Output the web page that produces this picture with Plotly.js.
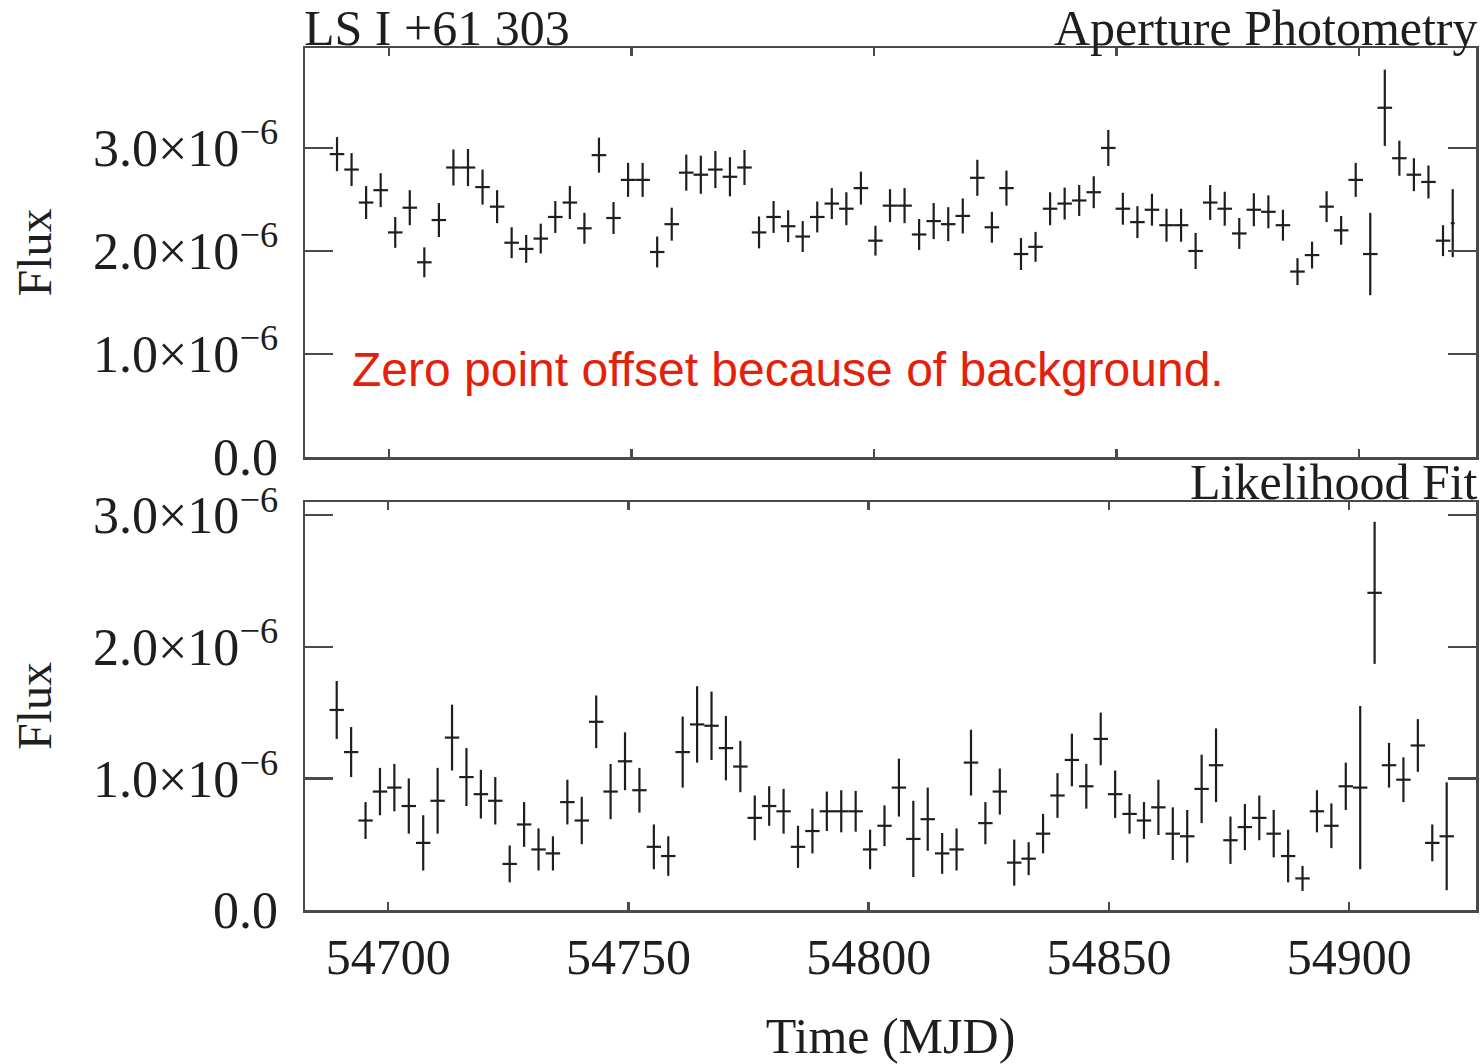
<!DOCTYPE html>
<html>
<head>
<meta charset="utf-8">
<script src="https://cdn.plot.ly/plotly-3.0.1.min.js"></script>
<style>html,body{margin:0;padding:0;background:#fff;}#chart{width:1481px;height:1064px;}</style>
</head>
<body>
<div id="chart"></div>
<script>
// Time bins (MJD), aperture photometry panel
const mjdAperture = [54689.3,54692.3,54695.3,54698.3,54701.3,54704.3,54707.3,54710.3,54713.3,54716.3,
  54719.3,54722.3,54725.3,54728.3,54731.3,54734.3,54737.3,54740.3,54743.3,54746.3,
  54749.3,54752.3,54755.3,54758.3,54761.3,54764.3,54767.3,54770.3,54773.3,54776.3,
  54779.3,54782.3,54785.3,54788.3,54791.3,54794.3,54797.3,54800.3,54803.3,54806.3,
  54809.3,54812.3,54815.3,54818.3,54821.3,54824.3,54827.3,54830.3,54833.3,54836.3,
  54839.3,54842.3,54845.3,54848.3,54851.3,54854.3,54857.3,54860.3,54863.3,54866.3,
  54869.3,54872.3,54875.3,54878.3,54881.3,54884.3,54887.3,54890.3,54893.3,54896.3,
  54899.3,54902.3,54905.3,54908.3,54911.3,54914.3,54917.3,54919.3];
// Time bins (MJD), likelihood fit panel
const mjdLikelihood = [54689.3,54692.3,54695.3,54698.3,54701.3,54704.3,54707.3,54710.3,54713.3,54716.3,
  54719.3,54722.3,54725.3,54728.3,54731.3,54734.3,54737.3,54740.3,54743.3,54746.3,
  54749.3,54752.3,54755.3,54758.3,54761.3,54764.3,54767.3,54770.3,54773.3,54776.3,
  54779.3,54782.3,54785.3,54788.3,54791.3,54794.3,54797.3,54800.3,54803.3,54806.3,
  54809.3,54812.3,54815.3,54818.3,54821.3,54824.3,54827.3,54830.3,54833.3,54836.3,
  54839.3,54842.3,54845.3,54848.3,54851.3,54854.3,54857.3,54860.3,54863.3,54866.3,
  54869.3,54872.3,54875.3,54878.3,54881.3,54884.3,54887.3,54890.3,54893.3,54896.3,
  54899.3,54902.3,54905.3,54908.3,54911.3,54914.3,54917.3,54920.3];
// Half bin widths (days)
const binHalfAperture = [1.5,1.5,1.5,1.5,1.5,1.5,1.5,1.5,1.5,1.5,1.5,1.5,1.5,1.5,1.5,1.5,1.5,1.5,1.5,1.5,
  1.5,1.5,1.5,1.5,1.5,1.5,1.5,1.5,1.5,1.5,1.5,1.5,1.5,1.5,1.5,1.5,1.5,1.5,1.5,1.5,
  1.5,1.5,1.5,1.5,1.5,1.5,1.5,1.5,1.5,1.5,1.5,1.5,1.5,1.5,1.5,1.5,1.5,1.5,1.5,1.5,
  1.5,1.5,1.5,1.5,1.5,1.5,1.5,1.5,1.5,1.5,1.5,1.5,1.5,1.5,1.5,1.5,1.5,0.4];
const binHalfLikelihood = [1.5,1.5,1.5,1.5,1.5,1.5,1.5,1.5,1.5,1.5,1.5,1.5,1.5,1.5,1.5,1.5,1.5,1.5,1.5,1.5,
  1.5,1.5,1.5,1.5,1.5,1.5,1.5,1.5,1.5,1.5,1.5,1.5,1.5,1.5,1.5,1.5,1.5,1.5,1.5,1.5,
  1.5,1.5,1.5,1.5,1.5,1.5,1.5,1.5,1.5,1.5,1.5,1.5,1.5,1.5,1.5,1.5,1.5,1.5,1.5,1.5,
  1.5,1.5,1.5,1.5,1.5,1.5,1.5,1.5,1.5,1.5,1.5,1.5,1.5,1.5,1.5,1.5,1.5,1.5];
// Aperture photometry flux (units of 1e-6)
const fluxAperture = [2.94,2.79,2.47,2.59,2.18,2.42,1.89,2.30,2.81,2.81,
  2.62,2.43,2.08,2.02,2.12,2.33,2.47,2.22,2.93,2.32,
  2.69,2.69,1.99,2.26,2.76,2.74,2.79,2.72,2.81,2.18,
  2.33,2.24,2.14,2.33,2.46,2.41,2.61,2.10,2.44,2.44,
  2.16,2.29,2.26,2.34,2.71,2.23,2.61,1.97,2.04,2.41,
  2.46,2.49,2.57,3.00,2.41,2.28,2.40,2.25,2.25,2.00,
  2.47,2.41,2.17,2.40,2.38,2.25,1.80,1.96,2.43,2.20,
  2.69,1.97,3.39,2.90,2.74,2.67,2.10,2.27];
const errAperture = [0.165,0.16,0.16,0.165,0.15,0.17,0.145,0.165,0.175,0.18,
  0.17,0.16,0.15,0.135,0.145,0.155,0.16,0.15,0.17,0.155,
  0.165,0.165,0.15,0.16,0.175,0.185,0.18,0.19,0.17,0.155,
  0.155,0.155,0.15,0.15,0.15,0.16,0.16,0.145,0.16,0.17,
  0.15,0.175,0.165,0.17,0.175,0.15,0.17,0.155,0.145,0.16,
  0.155,0.15,0.155,0.175,0.155,0.155,0.155,0.16,0.16,0.175,
  0.17,0.165,0.15,0.16,0.16,0.15,0.13,0.13,0.15,0.14,
  0.165,0.40,0.37,0.17,0.16,0.16,0.15,0.33];
// Likelihood fit flux (units of 1e-6)
const fluxLikelihood = [1.52,1.20,0.68,0.90,0.93,0.79,0.51,0.83,1.31,1.01,
  0.88,0.83,0.35,0.65,0.46,0.43,0.82,0.68,1.43,0.90,
  1.13,0.91,0.48,0.41,1.20,1.41,1.40,1.23,1.09,0.70,
  0.79,0.75,0.48,0.60,0.75,0.75,0.75,0.46,0.64,0.93,
  0.54,0.69,0.43,0.46,1.12,0.66,0.90,0.36,0.39,0.58,
  0.87,1.14,0.94,1.30,0.88,0.73,0.68,0.78,0.58,0.56,
  0.92,1.10,0.53,0.63,0.70,0.58,0.41,0.24,0.75,0.64,
  0.94,0.93,2.41,1.10,0.99,1.25,0.51,0.56];
const errLikelihood = [0.22,0.19,0.14,0.18,0.18,0.21,0.21,0.25,0.25,0.22,
  0.185,0.18,0.14,0.17,0.16,0.13,0.17,0.18,0.20,0.21,
  0.22,0.17,0.17,0.15,0.27,0.29,0.26,0.245,0.195,0.17,
  0.15,0.17,0.16,0.17,0.15,0.16,0.155,0.15,0.155,0.22,
  0.29,0.24,0.155,0.16,0.25,0.16,0.175,0.175,0.125,0.15,
  0.17,0.20,0.17,0.20,0.18,0.15,0.14,0.21,0.20,0.20,
  0.26,0.28,0.18,0.175,0.17,0.18,0.20,0.095,0.16,0.17,
  0.18,0.62,0.54,0.17,0.17,0.20,0.14,0.41];
// Axis ticks
const xTickVals = [54700,54750,54800,54850,54900];
const xTickText = ['54700','54750','54800','54850','54900'];
const yTickVals = [0,1,2,3];
const yTickText = ['0.0','1.0×10<sup>−6</sup>','2.0×10<sup>−6</sup>','3.0×10<sup>−6</sup>'];

const SCALE = 1e-6;
const ink = '#1e1e1e';
const frame = '#4a4a4a';
const serif = 'Liberation Serif, Times New Roman, serif';

function crosses(x, xe, y, ye, xa, ya) {
  return {
    type: 'scatter', mode: 'markers', xaxis: xa, yaxis: ya,
    x: x, y: y.map(v => v * SCALE),
    marker: {size: 1, color: 'rgba(0,0,0,0)'},
    error_y: {type: 'data', array: ye.map(v => v * SCALE), visible: true, color: ink, thickness: 2.2, width: 0},
    error_x: {type: 'data', array: xe, visible: true, color: ink, thickness: 2.2, width: 0},
    showlegend: false, hoverinfo: 'skip', cliponaxis: false
  };
}

const data = [
  crosses(mjdAperture, binHalfAperture, fluxAperture, errAperture, 'x', 'y'),
  crosses(mjdLikelihood, binHalfLikelihood, fluxLikelihood, errLikelihood, 'x2', 'y2')
];

const axisCommon = {
  showline: true, linewidth: 2.5, linecolor: frame, mirror: 'ticks',
  showgrid: false, zeroline: false, ticks: 'inside', tickcolor: frame, tickwidth: 2.5,
  tickfont: {family: serif, size: 50, color: ink}
};
const yTickFont = {family: serif, size: 52, color: ink};

const yTickValsScaled = yTickVals.map(v => v * SCALE);

const layout = {
  width: 1481, height: 1064,
  margin: {l: 305, r: 5, t: 48, b: 154},
  paper_bgcolor: '#ffffff', plot_bgcolor: '#ffffff',
  font: {family: serif, color: ink},
  xaxis: Object.assign({}, axisCommon, {
    domain: [0, 1], anchor: 'y', range: [54682.7, 54924.1],
    tickvals: xTickVals, ticktext: xTickText, showticklabels: false, ticklen: 8
  }),
  yaxis: Object.assign({}, axisCommon, {
    domain: [0.5255, 1], anchor: 'x', range: [0, 3.97 * SCALE],
    tickvals: yTickValsScaled, ticktext: yTickText, ticklen: 28, ticklabelstandoff: 14, tickfont: yTickFont,
    title: {text: 'Flux', font: {family: serif, size: 48, color: ink}, standoff: 26}
  }),
  xaxis2: Object.assign({}, axisCommon, {
    domain: [0, 1], anchor: 'y2', range: [54682.7, 54926.4],
    tickvals: xTickVals, ticktext: xTickText, ticklen: 8, ticklabelstandoff: 1,
    title: {text: 'Time (MJD)', font: {family: serif, size: 50, color: ink}, standoff: 54}
  }),
  yaxis2: Object.assign({}, axisCommon, {
    domain: [0, 0.4733], anchor: 'x2', range: [0, 3.10 * SCALE],
    tickvals: yTickValsScaled, ticktext: yTickText, ticklen: 28, ticklabelstandoff: 14, tickfont: yTickFont,
    title: {text: 'Flux', font: {family: serif, size: 48, color: ink}, standoff: 26}
  }),
  annotations: [
    {text: 'LS I +61 303', xref: 'paper', yref: 'paper', x: 0, y: 1, xanchor: 'left', yanchor: 'bottom',
     xshift: -3, yshift: -10, showarrow: false, font: {family: serif, size: 50, color: ink}},
    {text: 'Aperture Photometry', xref: 'paper', yref: 'paper', x: 1, y: 1, xanchor: 'right', yanchor: 'bottom',
     xshift: 4, yshift: -10, showarrow: false, font: {family: serif, size: 50, color: ink}},
    {text: 'Likelihood Fit', xref: 'paper', yref: 'paper', x: 1, y: 0.4733, xanchor: 'right', yanchor: 'bottom',
     xshift: 4, yshift: -10, showarrow: false, font: {family: serif, size: 50, color: ink}},
    {text: 'Zero point offset because of background.', xref: 'x', yref: 'y', x: 54691.9, y: 0.85 * SCALE,
     xanchor: 'left', yanchor: 'middle', showarrow: false,
     font: {family: 'Liberation Sans, Arial, sans-serif', size: 48, color: '#e5200a'}}
  ]
};

Plotly.newPlot('chart', data, layout, {staticPlot: true, displayModeBar: false});
</script>
</body>
</html>
